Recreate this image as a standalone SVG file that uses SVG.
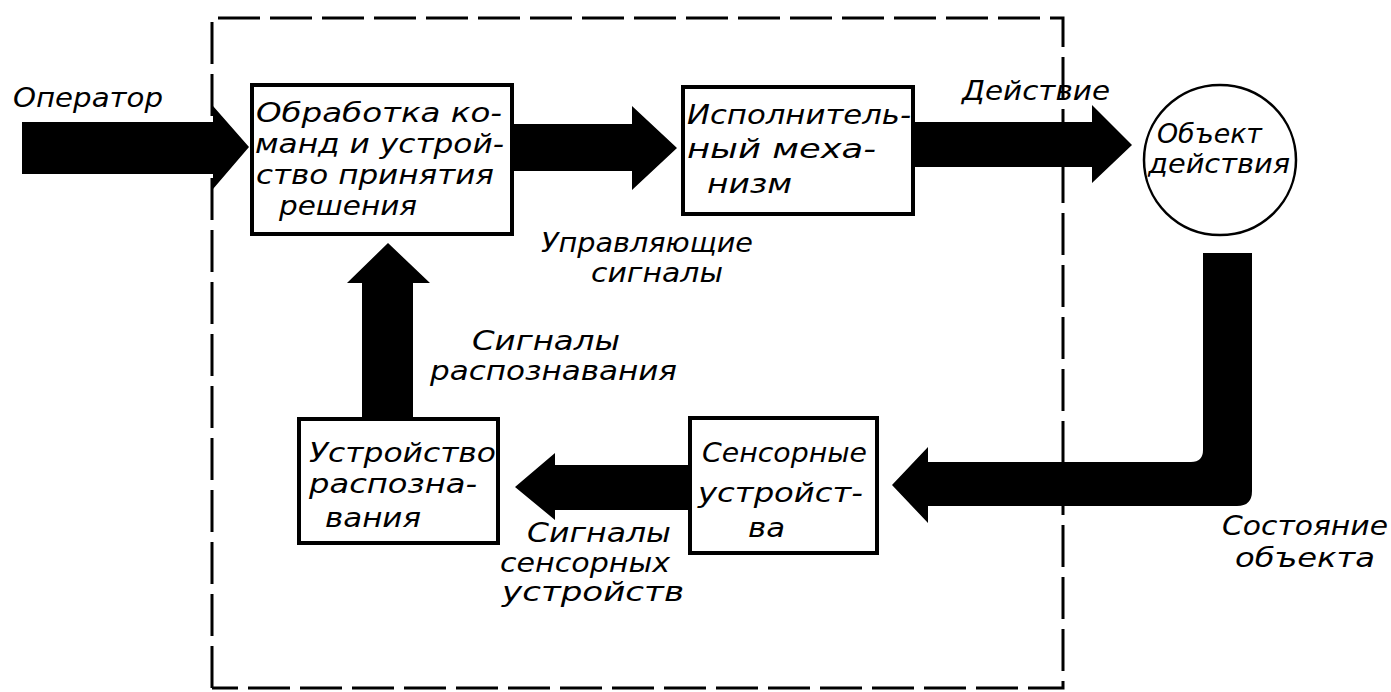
<svg xmlns="http://www.w3.org/2000/svg" width="1391" height="692" viewBox="0 0 1391 692">
<style>
  text { font-family: "DejaVu Sans", "Liberation Sans", sans-serif; font-style: italic; font-size: 27px; fill: #000; }
  .box { fill: #fff; stroke: #000; stroke-width: 4; }
  .obj { fill: #fff; stroke: #000; stroke-width: 2.5; }
  .arrow { fill: #000; stroke: none; }
  .border { fill: none; stroke: #000; stroke-width: 3; stroke-dasharray: 42 10; }
</style>
<rect width="1391" height="692" fill="#fff"/>
<g id="boundary">
  <path class="border" d="M212,688 V18 H1063 V688 H212"/>
</g>
<g id="connectors">
  <path id="arrow-operator" class="arrow" d="M22,122 H213 V106 L249,147 L213,189 V174 H22 Z"/>
  <path id="arrow-control" class="arrow" d="M512,124 H632 V106 L677,148 L632,190 V171 H512 Z"/>
  <path id="arrow-action" class="arrow" d="M913,122 H1092 V105 L1132,145 L1092,183 V167 H913 Z"/>
  <path id="arrow-recognition" class="arrow" d="M362,418 V283 H347 L388,243 L430,283 H413 V418 Z"/>
  <path id="arrow-sensor" class="arrow" d="M690,465 H555 V453 L515,487 L555,520 V510 H690 Z"/>
  <path id="arrow-state" class="arrow" d="M1203,253 H1252 V491 Q1252,506 1237,506 H928 V523 L892,485 L928,447 V462 H1191 Q1203,462 1203,450 Z"/>
</g>
<g id="label-operator"><text x="13" y="107" textLength="150" lengthAdjust="spacingAndGlyphs">Оператор</text></g>
<g id="node-decision">
  <rect class="box" x="252" y="85" width="260" height="149"/>
  <text x="256" y="122" textLength="246" lengthAdjust="spacingAndGlyphs">Обработка ко-</text>
  <text x="255" y="153" textLength="249" lengthAdjust="spacingAndGlyphs">манд и устрой-</text>
  <text x="256" y="184" textLength="238" lengthAdjust="spacingAndGlyphs">ство принятия</text>
  <text x="279" y="215" textLength="138" lengthAdjust="spacingAndGlyphs">решения</text>
</g>
<g id="node-actuator">
  <rect class="box" x="683" y="87" width="230" height="127"/>
  <text x="687" y="124" textLength="224" lengthAdjust="spacingAndGlyphs">Исполнитель-</text>
  <text x="687" y="158" textLength="189" lengthAdjust="spacingAndGlyphs">ный меха-</text>
  <text x="707" y="193" textLength="85" lengthAdjust="spacingAndGlyphs">низм</text>
</g>
<g id="node-object">
  <ellipse class="obj" cx="1220" cy="160" rx="76" ry="75"/>
  <text x="1157" y="143" textLength="105" lengthAdjust="spacingAndGlyphs">Объект</text>
  <text x="1148" y="173" textLength="142" lengthAdjust="spacingAndGlyphs">действия</text>
</g>
<g id="node-recognizer">
  <rect class="box" x="299" y="419" width="199" height="124"/>
  <text x="309" y="462" textLength="187" lengthAdjust="spacingAndGlyphs">Устройство</text>
  <text x="309" y="493" textLength="168" lengthAdjust="spacingAndGlyphs">распозна-</text>
  <text x="325" y="527" textLength="96" lengthAdjust="spacingAndGlyphs">вания</text>
</g>
<g id="node-sensors">
  <rect class="box" x="690" y="418" width="187" height="135"/>
  <text x="702" y="462" textLength="165" lengthAdjust="spacingAndGlyphs">Сенсорные</text>
  <text x="698" y="502" textLength="165" lengthAdjust="spacingAndGlyphs">устройст-</text>
  <text x="748" y="537" textLength="37" lengthAdjust="spacingAndGlyphs">ва</text>
</g>
<g id="labels">
  <text x="962" y="100" textLength="148" lengthAdjust="spacingAndGlyphs">Действие</text>
  <text x="541" y="252" textLength="212" lengthAdjust="spacingAndGlyphs">Управляющие</text>
  <text x="591" y="282" textLength="132" lengthAdjust="spacingAndGlyphs">сигналы</text>
  <text x="472" y="350" textLength="148" lengthAdjust="spacingAndGlyphs">Сигналы</text>
  <text x="430" y="380" textLength="247" lengthAdjust="spacingAndGlyphs">распознавания</text>
  <text x="527" y="542" textLength="144" lengthAdjust="spacingAndGlyphs">Сигналы</text>
  <text x="500" y="572" textLength="170" lengthAdjust="spacingAndGlyphs">сенсорных</text>
  <text x="502" y="601" textLength="182" lengthAdjust="spacingAndGlyphs">устройств</text>
  <text x="1222" y="535" textLength="166" lengthAdjust="spacingAndGlyphs">Состояние</text>
  <text x="1235" y="567" textLength="140" lengthAdjust="spacingAndGlyphs">объекта</text>
</g>
</svg>
